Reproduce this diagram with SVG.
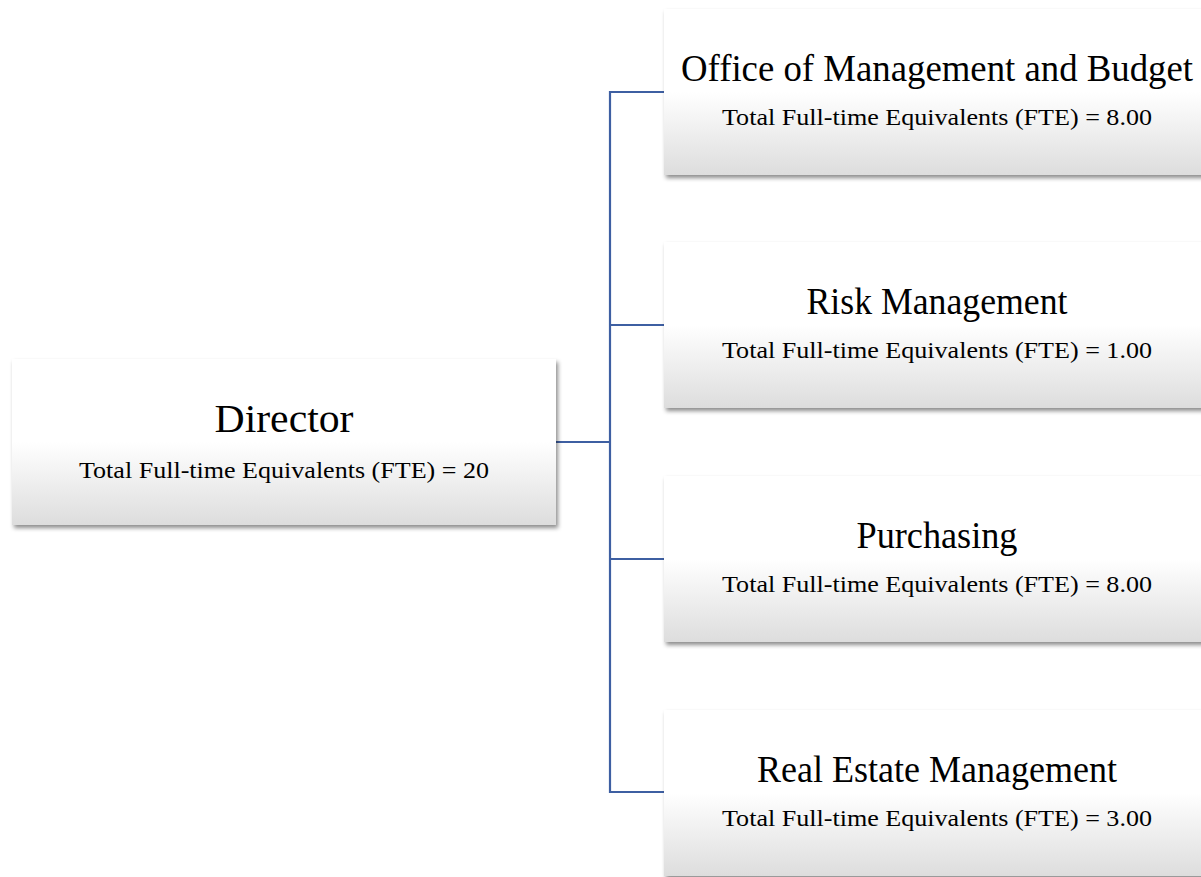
<svg xmlns="http://www.w3.org/2000/svg" width="1201" height="877" viewBox="0 0 1201 877">
<style>
.box{fill:url(#g);filter:url(#sh);}
.t{font-family:"Liberation Serif","DejaVu Serif",serif;fill:#000;text-anchor:middle;}
.ti{font-size:37px;}
.td{font-size:41px;}
.st{font-size:24px;}
.c{fill:none;stroke:#3e5fa2;stroke-width:2.2;}
</style>
<defs>
<linearGradient id="g" x1="0" y1="0" x2="0" y2="1">
<stop offset="0" stop-color="#ffffff"/>
<stop offset="0.5" stop-color="#ffffff"/>
<stop offset="1" stop-color="#dddddd"/>
</linearGradient>
<filter id="sh" x="-5%" y="-10%" width="112%" height="125%">
<feDropShadow dx="2" dy="3" stdDeviation="2.2" flood-color="#000" flood-opacity="0.45"/>
</filter>
</defs>
<g id="connectors">
<path class="c" d="M556 442 H610"/>
<path class="c" d="M664 92 H610 V792 H664"/>
<path class="c" d="M610 325 H664"/>
<path class="c" d="M610 559 H664"/>
</g>
<g id="director">
<rect class="box" x="12" y="359" width="544" height="166"/>
<text class="t td" x="284" y="432" textLength="139" lengthAdjust="spacingAndGlyphs">Director</text>
<text class="t st" x="284" y="478" textLength="410" lengthAdjust="spacingAndGlyphs">Total Full-time Equivalents (FTE) = 20</text>
</g>
<g id="omb">
<rect class="box" x="664" y="9" width="546" height="166"/>
<text class="t ti" x="937" y="81" textLength="512" lengthAdjust="spacingAndGlyphs">Office of Management and Budget</text>
<text class="t st" x="937" y="125" textLength="430" lengthAdjust="spacingAndGlyphs">Total Full-time Equivalents (FTE) = 8.00</text>
</g>
<g id="risk">
<rect class="box" x="664" y="242" width="546" height="166"/>
<text class="t ti" x="937" y="314" textLength="261" lengthAdjust="spacingAndGlyphs">Risk Management</text>
<text class="t st" x="937" y="358" textLength="430" lengthAdjust="spacingAndGlyphs">Total Full-time Equivalents (FTE) = 1.00</text>
</g>
<g id="purchasing">
<rect class="box" x="664" y="476" width="546" height="166"/>
<text class="t ti" x="937" y="548" textLength="161" lengthAdjust="spacingAndGlyphs">Purchasing</text>
<text class="t st" x="937" y="592" textLength="430" lengthAdjust="spacingAndGlyphs">Total Full-time Equivalents (FTE) = 8.00</text>
</g>
<g id="realestate">
<rect class="box" x="664" y="710" width="546" height="166"/>
<text class="t ti" x="937" y="782" textLength="360" lengthAdjust="spacingAndGlyphs">Real Estate Management</text>
<text class="t st" x="937" y="826" textLength="430" lengthAdjust="spacingAndGlyphs">Total Full-time Equivalents (FTE) = 3.00</text>
</g>
</svg>
